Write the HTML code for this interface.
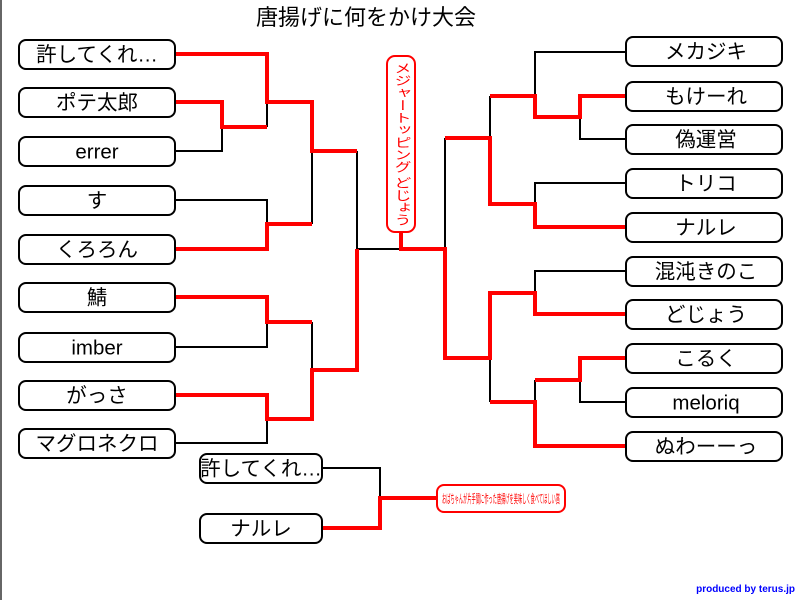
<!DOCTYPE html>
<html><head><meta charset="utf-8"><style>
html,body{margin:0;padding:0;background:#fff;width:800px;height:600px;overflow:hidden}
svg{display:block}
text{font-family:"Liberation Sans","Noto Sans CJK JP",sans-serif}
.b{fill:#fff;stroke:#000;stroke-width:2}
.t{font-size:20.5px;text-anchor:middle;dominant-baseline:central}
.k{stroke:#000;stroke-width:2;fill:none}
.r{stroke:#f00;stroke-width:4;fill:none}
</style></head><body>
<svg width="800" height="600" viewBox="0 0 800 600">
<line x1="1" y1="0" x2="1" y2="600" stroke="#666" stroke-width="2"/>
<text x="366" y="25" font-size="22" text-anchor="middle">唐揚げに何をかけ大会</text>

<g class="k">
<polyline points="175,151 222,151 222,127"/>
<polyline points="267,102 267,127"/>
<polyline points="175,200 267,200 267,224"/>
<polyline points="312,151 312,224"/>
<polyline points="357,151 357,249 401,249"/>
<polyline points="175,347 267,347 267,322"/>
<polyline points="312,322 312,370"/>
<polyline points="175,443 267,443 267,419"/>
<polyline points="626,52 535,52 535,96"/>
<polyline points="626,139 580,139 580,117"/>
<polyline points="490,96 490,138"/>
<polyline points="626,183 535,183 535,204"/>
<polyline points="445,138 445,249"/>
<polyline points="626,271 535,271 535,293"/>
<polyline points="490,358 490,402"/>
<polyline points="626,402 580,402 580,380"/>
<polyline points="535,380 535,402"/>
<polyline points="322,468 380,468 380,498"/>
</g>
<g class="r">
<polyline points="175,54 267,54 267,102 312,102 312,151 357,151"/>
<polyline points="175,102 222,102 222,127 267,127"/>
<polyline points="175,249 267,249 267,224 312,224"/>
<polyline points="175,297 267,297 267,322 312,322"/>
<polyline points="175,395 267,395 267,419 312,419 312,370 357,370 357,249"/>
<polyline points="401,232 401,249 445,249 445,358 490,358 490,293 535,293 535,314 626,314"/>
<polyline points="626,96 580,96 580,117 535,117 535,96 490,96"/>
<polyline points="445,138 490,138 490,204 535,204 535,227 626,227"/>
<polyline points="626,358 580,358 580,380 535,380"/>
<polyline points="490,402 535,402 535,446 626,446"/>
<polyline points="322,528 380,528 380,498 437,498"/>
</g>

<g>
<rect class="b" x="19" y="40" width="156" height="29" rx="7"/><text class="t" x="97" y="55">許してくれ…</text>
<rect class="b" x="19" y="88" width="156" height="29" rx="7"/><text class="t" x="97" y="103">ポテ太郎</text>
<rect class="b" x="19" y="137" width="156" height="29" rx="7"/><text class="t" x="97" y="152">errer</text>
<rect class="b" x="19" y="186" width="156" height="29" rx="7"/><text class="t" x="97" y="201">す</text>
<rect class="b" x="19" y="235" width="156" height="29" rx="7"/><text class="t" x="97" y="250">くろろん</text>
<rect class="b" x="19" y="283" width="156" height="29" rx="7"/><text class="t" x="97" y="298">鯖</text>
<rect class="b" x="19" y="333" width="156" height="29" rx="7"/><text class="t" x="97" y="348">imber</text>
<rect class="b" x="19" y="381" width="156" height="29" rx="7"/><text class="t" x="97" y="396">がっさ</text>
<rect class="b" x="19" y="429" width="156" height="29" rx="7"/><text class="t" x="97" y="444">マグロネクロ</text>
</g>
<g>
<rect class="b" x="626" y="37" width="156" height="29" rx="7"/><text class="t" x="706" y="52">メカジキ</text>
<rect class="b" x="626" y="82" width="156" height="29" rx="7"/><text class="t" x="706" y="97">もけーれ</text>
<rect class="b" x="626" y="125" width="156" height="29" rx="7"/><text class="t" x="706" y="140">偽運営</text>
<rect class="b" x="626" y="169" width="156" height="29" rx="7"/><text class="t" x="706" y="184">トリコ</text>
<rect class="b" x="626" y="213" width="156" height="29" rx="7"/><text class="t" x="706" y="228">ナルレ</text>
<rect class="b" x="626" y="257" width="156" height="29" rx="7"/><text class="t" x="706" y="272">混沌きのこ</text>
<rect class="b" x="626" y="300" width="156" height="29" rx="7"/><text class="t" x="706" y="315">どじょう</text>
<rect class="b" x="626" y="344" width="156" height="29" rx="7"/><text class="t" x="706" y="359">こるく</text>
<rect class="b" x="626" y="388" width="156" height="29" rx="7"/><text class="t" x="706" y="403">meloriq</text>
<rect class="b" x="626" y="432" width="156" height="29" rx="7"/><text class="t" x="706" y="447">ぬわーーっ</text>
</g>
<rect class="b" x="200" y="454" width="122" height="29" rx="7"/><text class="t" x="261" y="469">許してくれ…</text>
<rect class="b" x="200" y="514" width="122" height="29" rx="7"/><text class="t" x="261" y="529">ナルレ</text>
<rect x="437" y="485" width="128" height="27" rx="7" fill="#fff" stroke="#f00" stroke-width="2"/>
<text x="501" y="499" font-size="12" fill="#f00" text-anchor="middle" dominant-baseline="central" textLength="118" lengthAdjust="spacingAndGlyphs">おばちゃんが片手間に作った唐揚げを美味しく食べてほしい賞</text>

<rect x="387" y="56" width="28" height="176" rx="8" fill="#fff" stroke="#f00" stroke-width="2"/>
<text x="401" y="62" font-size="17" fill="#f00" style="writing-mode:vertical-rl;glyph-orientation-vertical:0" textLength="164" lengthAdjust="spacingAndGlyphs">メジャートッピング どじょう</text>

<text x="795" y="592" font-size="10" font-weight="bold" fill="#00f" text-anchor="end">produced by terus.jp</text>
</svg>
</body></html>
